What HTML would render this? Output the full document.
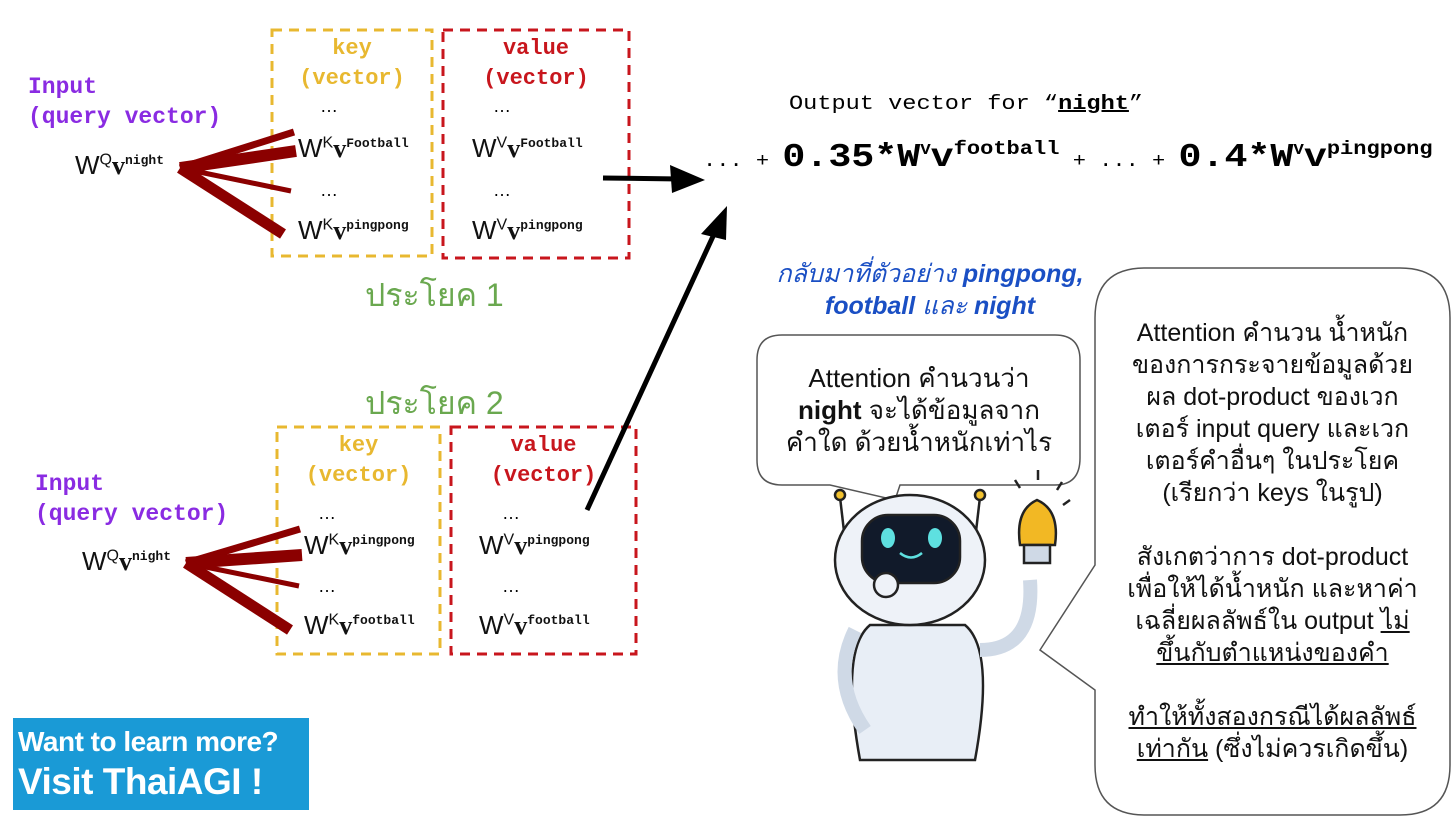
<!DOCTYPE html>
<html><head><meta charset="utf-8"><style>
body{margin:0;background:#fff;width:1456px;height:822px;overflow:hidden;position:relative;font-family:"Liberation Sans",sans-serif}
.a{position:absolute;white-space:nowrap}
.m{font-family:"Liberation Mono",monospace;font-weight:bold}
.w{font-family:"Liberation Sans",sans-serif;font-size:26px;color:#111}
.w sup{font-size:16px}
.w b{font-family:"Liberation Serif",serif;font-size:26px}
.w i{font-family:"Liberation Mono",monospace;font-style:normal;font-weight:bold;font-size:13px;vertical-align:10px}
.th{font-size:25px;color:#111;text-align:center;line-height:32px}
</style></head><body>
<svg class="a" style="left:0;top:0" width="1456" height="822">
<g fill="none" stroke-width="3" stroke-dasharray="10,7">
<rect x="272" y="30" width="160" height="226" stroke="#e8b830"/>
<rect x="443" y="30" width="186" height="228" stroke="#c8161d"/>
<rect x="277" y="427" width="163" height="227" stroke="#e8b830"/>
<rect x="451" y="427" width="185" height="227" stroke="#c8161d"/>
</g>
<g stroke="#8b0000" stroke-linecap="butt">
<line x1="180" y1="168" x2="294" y2="132" stroke-width="7"/>
<line x1="180" y1="168" x2="296" y2="151" stroke-width="12"/>
<line x1="180" y1="168" x2="291" y2="191" stroke-width="5"/>
<line x1="180" y1="168" x2="283" y2="234" stroke-width="11"/>
<line x1="186" y1="563" x2="300" y2="529" stroke-width="7"/>
<line x1="186" y1="563" x2="302" y2="555" stroke-width="12"/>
<line x1="186" y1="563" x2="299" y2="586" stroke-width="5"/>
<line x1="186" y1="563" x2="290" y2="630" stroke-width="11"/>
</g>
<g stroke="#000" stroke-width="5">
<line x1="603" y1="178" x2="680" y2="179"/>
<line x1="587" y1="510" x2="715" y2="232"/>
</g>
<polygon points="705,180 670,165 672,193" fill="#000"/>
<polygon points="727,206 701,234 726,240" fill="#000"/>
<path d="M782,335 H1055 Q1080,335 1080,360 V458 Q1080,485 1055,485 H900 L895,500 L830,485 H782 Q757,485 757,460 V360 Q757,335 782,335Z" fill="#fff" stroke="#555" stroke-width="1.5"/>
<path d="M1145,268 H1400 Q1450,268 1450,318 V765 Q1450,815 1400,815 H1145 Q1095,815 1095,765 V690 L1040,650 L1095,565 V318 Q1095,268 1145,268Z" fill="#fff" stroke="#555" stroke-width="1.5"/>
<g stroke="#222" stroke-width="2.5">
<line x1="840" y1="497" x2="845" y2="540"/><line x1="980" y1="497" x2="975" y2="540"/>
<circle cx="840" cy="495" r="5" fill="#f2c230"/><circle cx="980" cy="495" r="5" fill="#f2c230"/>
<path d="M860,760 Q840,650 870,625 H965 Q995,650 975,760 Z" fill="#e8eef6"/>
<path d="M855,630 Q830,680 865,730" fill="none" stroke-width="14" stroke="#cfd9e6"/>
<path d="M980,650 Q1035,650 1030,580" fill="none" stroke-width="14" stroke="#cfd9e6"/>
<ellipse cx="910" cy="560" rx="75" ry="65" fill="#eef2f8"/>
<rect x="862" y="515" width="98" height="68" rx="26" fill="#111a2a"/>
<ellipse cx="888" cy="538" rx="7" ry="10" fill="#5ee0e0" stroke="none"/>
<ellipse cx="935" cy="538" rx="7" ry="10" fill="#5ee0e0" stroke="none"/>
<path d="M900,553 Q911,562 922,553" fill="none" stroke="#5ee0e0"/>
<circle cx="886" cy="585" r="12" fill="#eef2f8"/>
<path d="M1020,545 Q1015,510 1037,500 Q1060,510 1055,545 Z" fill="#f2b824"/>
<rect x="1024" y="545" width="26" height="18" fill="#cfd9e6"/>
<line x1="1038" y1="470" x2="1038" y2="480"/><line x1="1015" y1="480" x2="1020" y2="488"/><line x1="1062" y1="482" x2="1057" y2="490"/><line x1="1070" y1="500" x2="1063" y2="505"/>
</g>
<rect x="13" y="718" width="296" height="92" fill="#1a9ad6"/>
</svg>
<div class="a m" style="left:28px;top:72px;font-size:23px;color:#8a2be2;line-height:30px">Input<br>(query vector)</div>
<div class="a m" style="left:35px;top:469px;font-size:23px;color:#8a2be2;line-height:30px">Input<br>(query vector)</div>
<div class="a m" style="left:272px;top:34px;width:160px;text-align:center;font-size:22px;color:#e8b830;line-height:30px">key<br>(vector)</div>
<div class="a m" style="left:443px;top:34px;width:186px;text-align:center;font-size:22px;color:#c8161d;line-height:30px">value<br>(vector)</div>
<div class="a m" style="left:277px;top:431px;width:163px;text-align:center;font-size:22px;color:#e8b830;line-height:30px">key<br>(vector)</div>
<div class="a m" style="left:451px;top:431px;width:185px;text-align:center;font-size:22px;color:#c8161d;line-height:30px">value<br>(vector)</div>
<div class="a" style="left:320px;top:96px;font-size:18px">…</div><div class="a" style="left:493px;top:96px;font-size:18px">…</div>
<div class="a" style="left:320px;top:180px;font-size:18px">…</div><div class="a" style="left:493px;top:180px;font-size:18px">…</div>
<div class="a" style="left:318px;top:503px;font-size:18px">…</div><div class="a" style="left:502px;top:503px;font-size:18px">…</div>
<div class="a" style="left:318px;top:576px;font-size:18px">…</div><div class="a" style="left:502px;top:576px;font-size:18px">…</div>
<div class="a w" style="left:75px;top:150px">W<sup>Q</sup><b>v</b><i>night</i></div>
<div class="a w" style="left:82px;top:546px">W<sup>Q</sup><b>v</b><i>night</i></div>
<div class="a w" style="left:298px;top:133px">W<sup>K</sup><b>v</b><i>Football</i></div>
<div class="a w" style="left:472px;top:133px">W<sup>V</sup><b>v</b><i>Football</i></div>
<div class="a w" style="left:298px;top:215px">W<sup>K</sup><b>v</b><i>pingpong</i></div>
<div class="a w" style="left:472px;top:215px">W<sup>V</sup><b>v</b><i>pingpong</i></div>
<div class="a w" style="left:304px;top:530px">W<sup>K</sup><b>v</b><i>pingpong</i></div>
<div class="a w" style="left:479px;top:530px">W<sup>V</sup><b>v</b><i>pingpong</i></div>
<div class="a w" style="left:304px;top:610px">W<sup>K</sup><b>v</b><i>football</i></div>
<div class="a w" style="left:479px;top:610px">W<sup>V</sup><b>v</b><i>football</i></div>
<div class="a" style="left:365px;top:270px;font-size:32px;color:#6aa84f">ประโยค 1</div>
<div class="a" style="left:365px;top:378px;font-size:32px;color:#6aa84f">ประโยค 2</div>
<div class="a" style="left:789px;top:93px;font-family:'Liberation Mono',monospace;font-size:20px;transform:scaleX(1.18);transform-origin:left">Output vector for “<u style="font-weight:bold">night</u>”</div>
<div class="a m" style="left:703px;top:138px;font-size:19px;font-weight:normal;transform:scaleX(1.16);transform-origin:left">... + <span style="font-size:33px;font-weight:bold">0.35*W<sup style="font-size:15px">V</sup>v<sup style="font-size:19px">football</sup></span> + ... + <span style="font-size:33px;font-weight:bold">0.4*W<sup style="font-size:15px">V</sup>v<sup style="font-size:19px">pingpong</sup></span></div>
<div class="a" style="left:760px;top:258px;width:340px;text-align:center;font-size:25px;color:#1a4fc4;font-style:italic;line-height:32px">กลับมาที่ตัวอย่าง <b>pingpong,</b><br><b>football</b> และ <b>night</b></div>
<div class="a th" style="left:760px;top:362px;width:318px;font-size:26px">Attention คำนวนว่า<br><b>night</b> จะได้ข้อมูลจาก<br>คำใด ด้วยน้ำหนักเท่าไร</div>
<div class="a th" style="left:1100px;top:317px;width:345px">Attention คำนวน น้ำหนัก<br>ของการกระจายข้อมูลด้วย<br>ผล dot-product ของเวก<br>เตอร์ input query และเวก<br>เตอร์คำอื่นๆ ในประโยค<br>(เรียกว่า keys ในรูป)<br><br>สังเกตว่าการ dot-product<br>เพื่อให้ได้น้ำหนัก และหาค่า<br>เฉลี่ยผลลัพธ์ใน output <u>ไม่</u><br><u>ขึ้นกับตำแหน่งของคำ</u><br><br><u>ทำให้ทั้งสองกรณีได้ผลลัพธ์</u><br><u>เท่ากัน</u> (ซึ่งไม่ควรเกิดขึ้น)</div>
<div class="a" style="left:18px;top:722px;color:#fff;font-weight:bold;font-size:28px;line-height:40px;letter-spacing:-0.5px">Want to learn more?<br><span style="font-size:37px">Visit ThaiAGI !</span></div>
</body></html>
